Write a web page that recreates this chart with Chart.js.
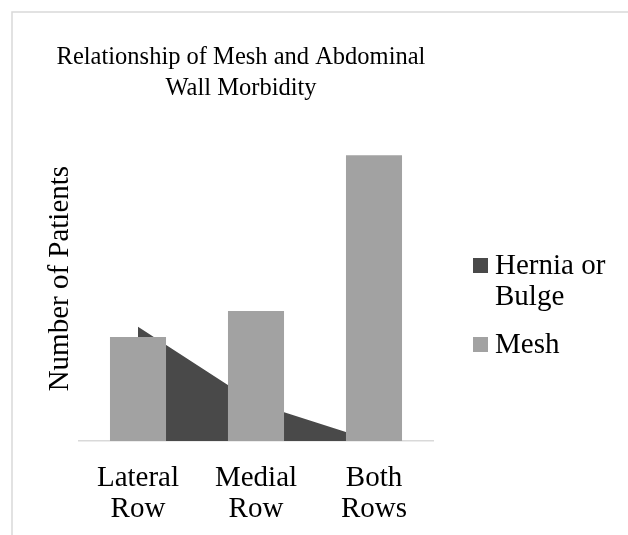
<!DOCTYPE html>
<html lang="en">
<head>
  <meta charset="UTF-8">
  <title>Relationship of Mesh and Abdominal Wall Morbidity</title>
  <script src="https://cdn.jsdelivr.net/npm/chart.js"></script>
  <style>
    html, body { margin: 0; padding: 0; background: #fff; }
    #wrap { width: 628px; height: 535px; }
  </style>
</head>
<body>
  <div id="wrap"><canvas id="chart" width="628" height="535"></canvas></div>

  <script>
    const categories = [['Lateral', 'Row'], ['Medial', 'Row'], ['Both', 'Rows']];
    const seriesNames = ['Hernia or Bulge', 'Mesh'];
    const herniaValues = [8.8, 2.9, 0];
    const meshValues = [8, 10, 22];
    const yMax = 25;

    const serif = '"Liberation Serif", "Times New Roman", serif';

    // frame lines + right-hand legend (labels wrap like the original)
    const frameAndLegend = {
      id: 'frameAndLegend',
      beforeDraw(chart) {
        const c = chart.ctx;
        c.save();
        c.strokeStyle = '#d9d9d9';
        c.lineWidth = 1.5;
        c.beginPath();
        c.moveTo(12, 535);
        c.lineTo(12, 12);
        c.lineTo(628, 12);
        c.stroke();
        c.restore();
      },
      afterDraw(chart) {
        const c = chart.ctx;
        c.save();
        c.font = '29px ' + serif;
        c.fillStyle = '#000';
        c.textBaseline = 'middle';
        let y = 265;
        chart.data.datasets.forEach(ds => {
          const words = ds.label.split(' ');
          const lines = [];
          let cur = '';
          words.forEach(w => {
            const t = cur ? cur + ' ' + w : w;
            if (c.measureText(t).width > 125 && cur) { lines.push(cur); cur = w; }
            else cur = t;
          });
          lines.push(cur);
          c.fillStyle = ds.backgroundColor;
          c.fillRect(473, y - 7, 15, 15);
          c.fillStyle = '#000';
          lines.forEach((ln, i) => c.fillText(ln, 495, y + 1 + i * 31));
          y += lines.length * 31 + 17;
        });
        c.restore();
      }
    };

    new Chart(document.getElementById('chart'), {
      data: {
        labels: categories,
        datasets: [{
          type: 'line',
          label: seriesNames[0],
          data: herniaValues,
          backgroundColor: '#494949',
          borderColor: '#494949',
          borderWidth: 0,
          pointRadius: 0,
          tension: 0,
          fill: 'origin',
          order: 2
        }, {
          type: 'bar',
          label: seriesNames[1],
          data: meshValues,
          backgroundColor: '#a2a2a2',
          barPercentage: 0.475,
          categoryPercentage: 1,
          order: 1
        }]
      },
      options: {
        responsive: false,
        animation: false,
        layout: { padding: { left: 49, right: 195, top: 27, bottom: 0 } },
        plugins: {
          legend: { display: false },
          tooltip: { enabled: false },
          title: {
            display: true,
            text: ['Relationship of Mesh and Abdominal', 'Wall Morbidity'],
            color: '#000',
            font: { family: serif, size: 24.5, weight: 'normal', lineHeight: 1.27 },
            padding: { top: 15, bottom: 12 }
          }
        },
        scales: {
          x: {
            grid: { display: false },
            border: { display: true, color: '#d9d9d9', width: 1.5 },
            ticks: {
              color: '#000',
              font: { family: serif, size: 29, lineHeight: 1.1 },
              padding: 13,
              maxRotation: 0
            },
            afterFit(scale) { scale.height = 94; }
          },
          y: {
            min: 0,
            max: yMax,
            grid: { display: false },
            border: { display: false },
            ticks: { display: false },
            title: {
              display: true,
              text: 'Number of Patients',
              color: '#000',
              font: { family: serif, size: 29, weight: 'normal', lineHeight: 0.8 },
              padding: { top: 0, bottom: 0 }
            },
            afterFit(scale) { scale.width = 30; }
          }
        }
      },
      plugins: [frameAndLegend]
    });
  </script>
</body>
</html>
